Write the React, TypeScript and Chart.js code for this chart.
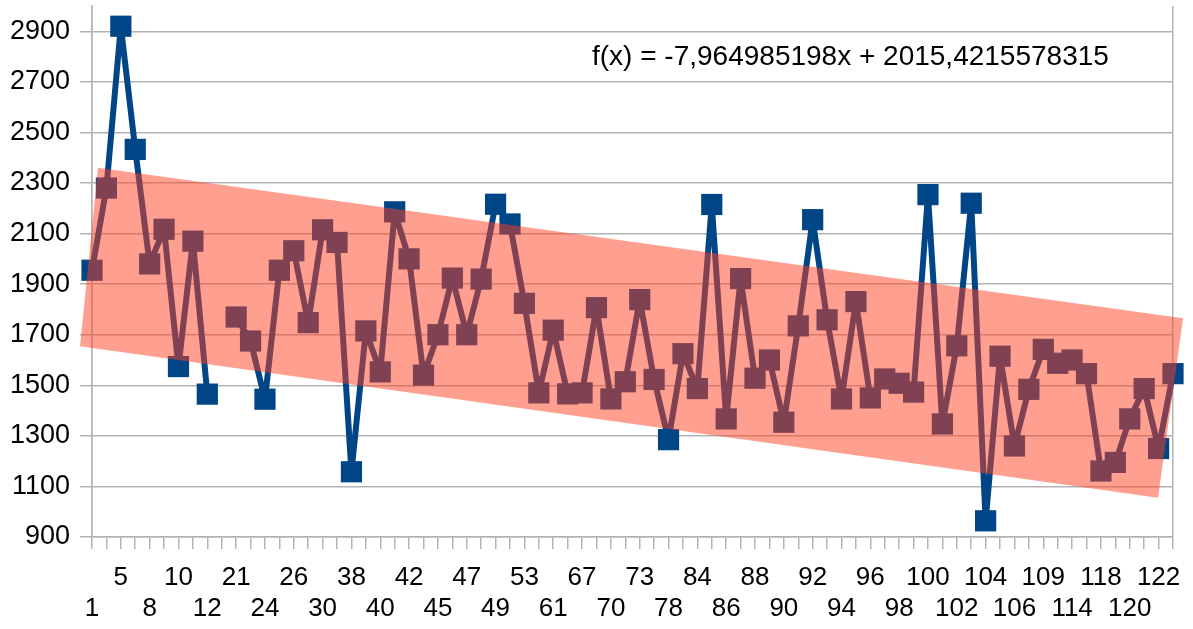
import React, { useEffect, useRef } from 'react';
import { Chart, registerables } from 'chart.js';

Chart.register(...registerables);

const categories: string[] = [
  '1', '3', '5', '7', '8', '9', '10', '11', '12', '15',
  '21', '23', '24', '25', '26', '28', '30', '34', '38', '39',
  '40', '41', '42', '44', '45', '46', '47', '48', '49', '51',
  '53', '57', '61', '64', '67', '69', '70', '72', '73', '75',
  '78', '81', '84', '85', '86', '87', '88', '89', '90', '91',
  '92', '93', '94', '95', '96', '97', '98', '99', '100', '101',
  '102', '103', '104', '105', '106', '107', '109', '111', '114', '116',
  '118', '119', '120', '121', '122', '123',
];

const values: (number | null)[] = [
  1955, 2280, 2920, 2433, 1980, 2117, 1574, 2070, 1465, null,
  1770, 1675, 1445, 1955, 2032, 1748, 2115, 2065, 1158, 1715,
  1553, 2186, 2000, 1540, 1700, 1924, 1700, 1920, 2216, 2138,
  1824, 1470, 1718, 1466, 1470, 1807, 1446, 1514, 1839, 1523,
  1285, 1625, 1487, 2215, 1367, 1922, 1528, 1600, 1354, 1735,
  2155, 1759, 1446, 1831, 1450, 1525, 1508, 1473, 2254, 1347,
  1656, 2220, 964, 1615, 1260, 1484, 1642, 1587, 1600, 1546,
  1161, 1195, 1367, 1487, 1250, 1546,
];

const yMin = 900;
const yMax = 3000;
const yStep = 100;
const yLabelStep = 200;

// highlighted band, corners in data coordinates (category index, value)
const bandX = [0.42, 75.7, 73.96, -0.83];
const bandY = [2360, 1765, 1055, 1654];

const equationText = 'f(x) = -7,964985198x + 2015,4215578315';

const FONT = '"Liberation Sans", Arial, sans-serif';

export default function App() {
  const ref = useRef<HTMLCanvasElement>(null);

  useEffect(() => {
    if (!ref.current) return;
    const bandPlugin = {
      id: 'bandOverlay',
      afterDatasetsDraw(chart: any) {
        const { ctx, scales } = chart;
        const xs = scales.x;
        const ys = scales.y;
        ctx.save();
        ctx.beginPath();
        bandX.forEach((bx, i) => {
          const px = xs.getPixelForValue(bx);
          const py = ys.getPixelForValue(bandY[i]);
          if (i === 0) ctx.moveTo(px, py);
          else ctx.lineTo(px, py);
        });
        ctx.closePath();
        ctx.fillStyle = 'rgba(255,64,32,0.5)';
        ctx.fill();
        ctx.restore();
      },
    };
    const eqPlugin = {
      id: 'equation',
      afterDraw(chart: any) {
        const { ctx } = chart;
        ctx.save();
        ctx.font = '28px ' + FONT;
        ctx.fillStyle = '#000';
        ctx.textAlign = 'left';
        ctx.textBaseline = 'middle';
        ctx.fillText(equationText, 592, 57);
        ctx.restore();
      },
    };

    const chart = new Chart(ref.current, {
      type: 'line',
      data: {
        labels: categories,
        datasets: [
          {
            data: values,
            borderColor: '#004586',
            backgroundColor: '#004586',
            borderWidth: 6,
            borderJoinStyle: 'round',
            borderCapStyle: 'round',
            pointStyle: 'rect',
            pointRadius: 15,
            pointBorderWidth: 0,
            pointHoverRadius: 15,
            spanGaps: false,
            tension: 0,
            clip: false,
          },
        ],
      },
      options: {
        animation: false,
        responsive: false,
        events: [],
        layout: { autoPadding: false, padding: { left: 0, top: 6, right: 20, bottom: 0 } },
        plugins: {
          legend: { display: false },
          tooltip: { enabled: false },
          title: { display: false },
        },
        scales: {
          x: {
            type: 'category',
            offset: false,
            border: { display: true, color: '#b3b3b3', width: 1.5 },
            grid: {
              display: true,
              drawOnChartArea: true,
              drawTicks: true,
              tickLength: 12,
              color: (c: any) =>
                c.index === 0 || c.index === categories.length - 1 ? '#b3b3b3' : 'rgba(0,0,0,0)',
              tickColor: '#b3b3b3',
              lineWidth: 1.5,
            },
            ticks: {
              autoSkip: false,
              maxRotation: 0,
              minRotation: 0,
              padding: 13,
              color: '#000',
              font: { family: FONT, size: 26, lineHeight: 1.2 },
              callback: (_v: any, i: number) => {
                if (i % 2 === 1) return '';
                return i % 4 === 0 ? ['', categories[i]] : [categories[i], ''];
              },
            },
            afterFit: (s: any) => {
              s.height = 92;
              s.paddingLeft = 0;
              s.paddingRight = 0;
            },
          },
          y: {
            min: yMin,
            max: yMax,
            border: { display: true, color: '#b3b3b3', width: 1.5 },
            grid: {
              color: '#b3b3b3',
              tickColor: '#b3b3b3',
              tickLength: 12,
              lineWidth: 1.5,
            },
            ticks: {
              stepSize: yStep,
              padding: 10,
              color: '#000',
              font: (c: any) => ({
                family: FONT,
                size: c && c.tick && (Number(c.tick.value) - yMin) % yLabelStep !== 0 ? 1 : 27,
                lineHeight: 1,
              }),
              callback: (v: any) => ((Number(v) - yMin) % yLabelStep === 0 ? String(v) : ''),
            },
            afterFit: (s: any) => {
              s.width = 92;
              s.paddingTop = 0;
              s.paddingBottom = 0;
            },
          },
        },
      },
      plugins: [bandPlugin, eqPlugin],
    });
    return () => chart.destroy();
  }, []);

  return (
    <div style={{ position: 'absolute', left: 0, top: 0, width: 1193, height: 629, background: '#fff' }}>
      <canvas ref={ref} width={1193} height={629} style={{ display: 'block' }} />
    </div>
  );
}
